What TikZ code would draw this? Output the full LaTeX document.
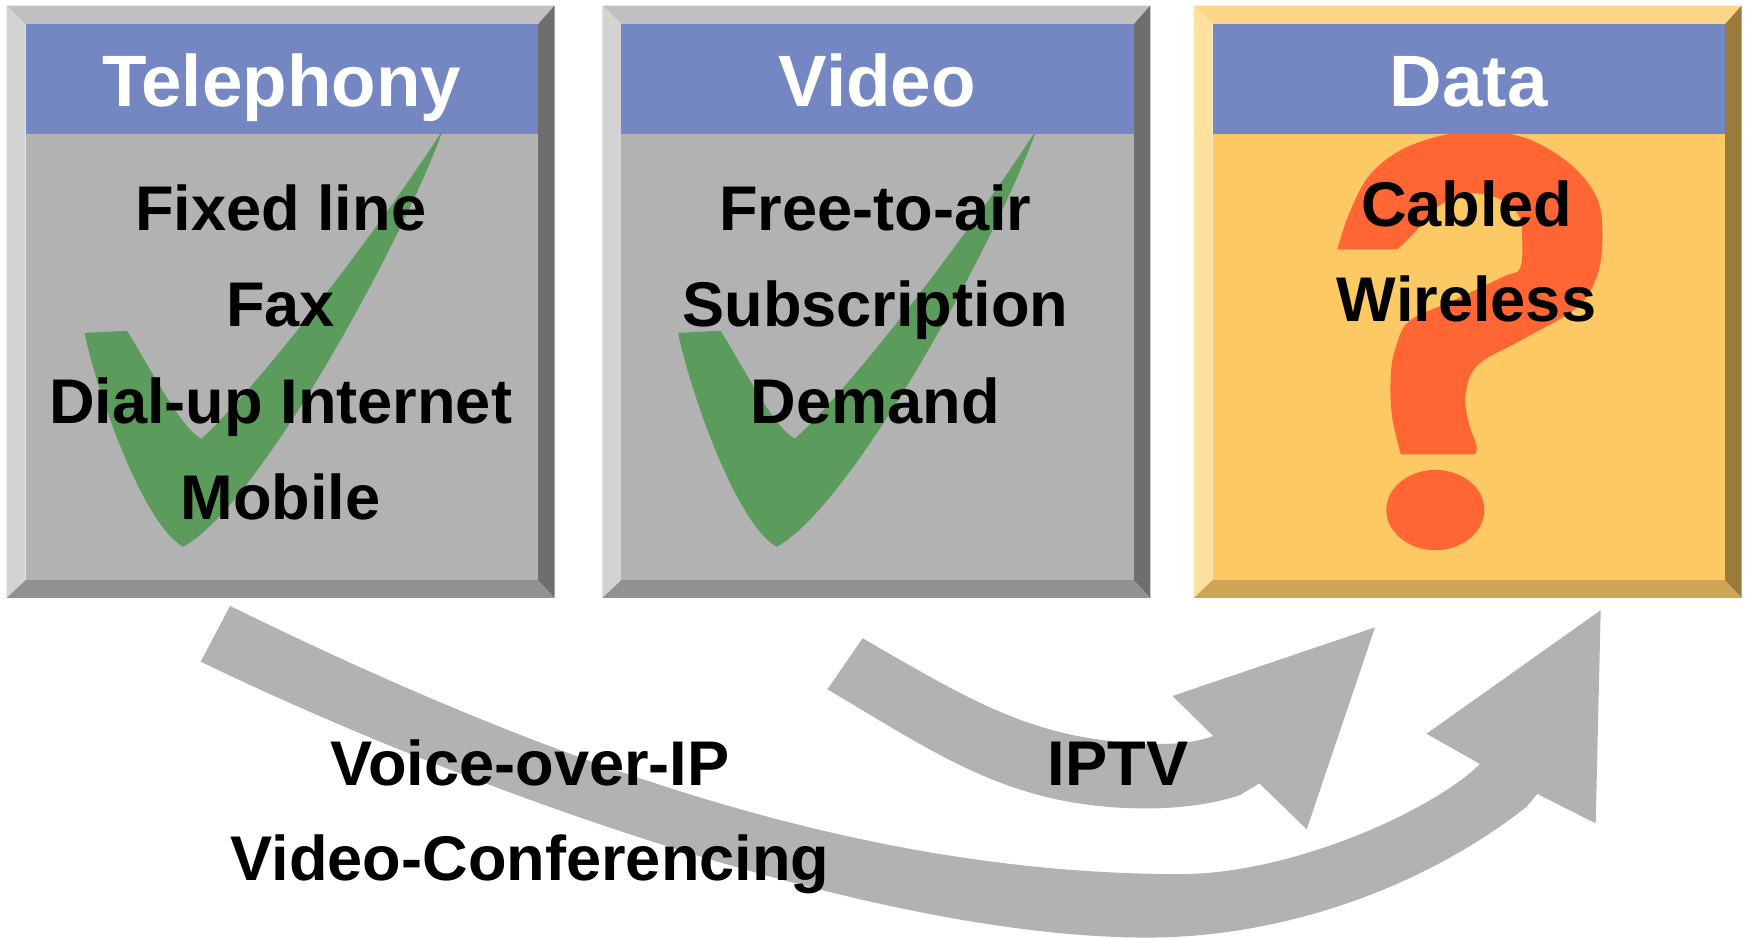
\documentclass[tikz,border=0pt]{standalone}
\usepackage{fontspec}
\setmainfont{Liberation Sans}
\usetikzlibrary{positioning}

\definecolor{headblue}{HTML}{7587C3}
\definecolor{facegray}{HTML}{B2B2B2}
\definecolor{bevtopgray}{HTML}{C0C0C0}
\definecolor{bevleftgray}{HTML}{D3D3D3}
\definecolor{bevrightgray}{HTML}{6E6E6E}
\definecolor{bevbotgray}{HTML}{919191}
\definecolor{faceyellow}{HTML}{FDC964}
\definecolor{bevtopyellow}{HTML}{FDD587}
\definecolor{bevleftyellow}{HTML}{FEE0A0}
\definecolor{bevrightyellow}{HTML}{9B7A3D}
\definecolor{bevbotyellow}{HTML}{CFA454}
\definecolor{tickgreen}{HTML}{5B9B5B}
\definecolor{askorange}{HTML}{FF6633}
\definecolor{arrowgray}{HTML}{B2B2B2}

% bevelled frame: #1 left x, then top, left, right, bottom colour
\newcommand{\bevelframe}[5]{%
  \fill[#2] (#1,5) -- ++(492,0) -- ++(-15,17) -- ++(-460,0) -- cycle;
  \fill[#3] (#1,5) -- ++(17,17) -- ++(0,499) -- ++(-17,16) -- cycle;
  \fill[#4] (#1+492,5) -- ++(0,532) -- ++(-15,-16) -- ++(0,-499) -- cycle;
  \fill[#5] (#1,537) -- ++(17,-16) -- ++(460,0) -- ++(15,16) -- cycle;
}
% tick, in the coordinates of the video box
\newcommand{\tickpath}{(609,299) -- (647,297) .. controls (665,325) and (695,385) .. (714,394) .. controls (774,338) and (886,187) .. (931,116) .. controls (896,214) and (765,455) .. (697.5,491) .. controls (660,470) and (618,345) .. (609,299) -- cycle}

\begin{document}
\begin{tikzpicture}[x=0.5pt,y=-0.5pt]
            % Block styles
            \tikzstyle{face} = [rectangle, inner sep=0, minimum width=230pt, minimum height=249.5pt]
            \tikzstyle{header} = [rectangle, fill=headblue, text=white, inner sep=0, minimum width=230pt, minimum height=49pt, text height=37pt, text depth=12pt, font=\fontsize{32.7}{36}\selectfont\bfseries]
            \tikzstyle{item} = [inner sep=0, font=\fontsize{28.35}{34}\selectfont\bfseries]
            \tikzstyle{flow} = [fill=arrowgray]
            \useasboundingbox (0,0) rectangle (1568,844);

            % Migration arrows
            \fill[flow] (206.6,544.2) .. controls (476.6,676.2) and (760,785) .. (1060,785)
                .. controls (1160,785) and (1286.5,728.1) .. (1329.1,686.1)
                -- (1281,659) -- (1437.5,548) -- (1433,739.5) -- (1380.6,713) -- (1371,724.5)
                .. controls (1276,799) and (1150,842) .. (1030,842)
                .. controls (780,842) and (405.2,703) .. (180.2,594.2) -- cycle;
            \fill[flow] (774.7,573.2) .. controls (878.6,633.2) and (935,668) .. (1045,668)
                .. controls (1065,668) and (1078,665) .. (1089.6,661)
                -- (1053,625) -- (1234.8,563.4) -- (1173.5,744.8) -- (1131,703.5) -- (1113.6,714)
                .. controls (1090,722) and (1060,726) .. (1030,726)
                .. controls (910,726) and (846.2,680.2) .. (743,619) -- cycle;

            % Boxes
            \bevelframe{6}{bevtopgray}{bevleftgray}{bevrightgray}{bevbotgray}
            \bevelframe{541}{bevtopgray}{bevleftgray}{bevrightgray}{bevbotgray}
            \bevelframe{1072}{bevtopyellow}{bevleftyellow}{bevrightyellow}{bevbotyellow}
            \node[face, fill=facegray] (tel_face) at (253,271.5) {};
            \node[face, fill=facegray] (video_face) at (788,271.5) {};
            \node[face, fill=faceyellow] (data_face) at (1319,271.5) {};

            % Tick and question mark
            \fill[tickgreen, shift={(-533,0)}] \tickpath;
            \fill[tickgreen] \tickpath;
            \fill[askorange] (1201,224) -- plot[smooth, tension=0.6] coordinates {(1201,224) (1211.5,192) (1231,156) (1266,131) (1318,118) (1367,123) (1408.5,146) (1434,177.5) (1439,213) (1434,248.5) (1415,277) (1367,305) (1328,327) (1316.5,351.5) (1318,376) (1326,401) (1324,408)}
                -- (1258,408) -- plot[smooth, tension=0.6] coordinates {(1258,408) (1250,373) (1249,337) (1253.5,312) (1266,288) (1305,270) (1350,248.5) (1365,241) (1367,213) (1363,192) (1344,177.5) (1318,174) (1292,185) (1273,206) (1255,224)} -- cycle;
            \fill[askorange] (1289,458) ellipse [x radius=44, y radius=36];

            % Headers
            \node[header, below=0pt of tel_face.north] (tel_head) {Telephony};
            \node[header, below=0pt of video_face.north] (video_head) {Video};
            \node[header, below=0pt of data_face.north] (data_head) {Data};

            % Services
            \node[item, anchor=base] (fixed_line) at (252,207) {Fixed line};
            \node[item, anchor=base] (fax) at ([yshift=-43.25pt]fixed_line.base) {Fax};
            \node[item, anchor=base] (dialup) at ([yshift=-43.25pt]fax.base) {Dial-up Internet};
            \node[item, anchor=base] (mobile) at ([yshift=-43.25pt]dialup.base) {Mobile};
            \node[item, anchor=base] (free_air) at (786,207) {Free-to-air};
            \node[item, anchor=base] (subscr) at ([yshift=-43.25pt]free_air.base) {Subscription};
            \node[item, anchor=base] (demand) at ([yshift=-43.25pt]subscr.base) {Demand};
            \node[item, anchor=base] (cabled) at (1317,203) {Cabled};
            \node[item, anchor=base] (wireless) at ([yshift=-43pt]cabled.base) {Wireless};

            % Arrow labels
            \node[item, anchor=base] (voip) at (476,705) {Voice-over-IP};
            \node[item, anchor=base] (video_conf) at ([yshift=-43pt]voip.base) {Video-Conferencing};
            \node[item, anchor=base] (iptv) at (1004,705) {IPTV};
\end{tikzpicture}
\end{document}
